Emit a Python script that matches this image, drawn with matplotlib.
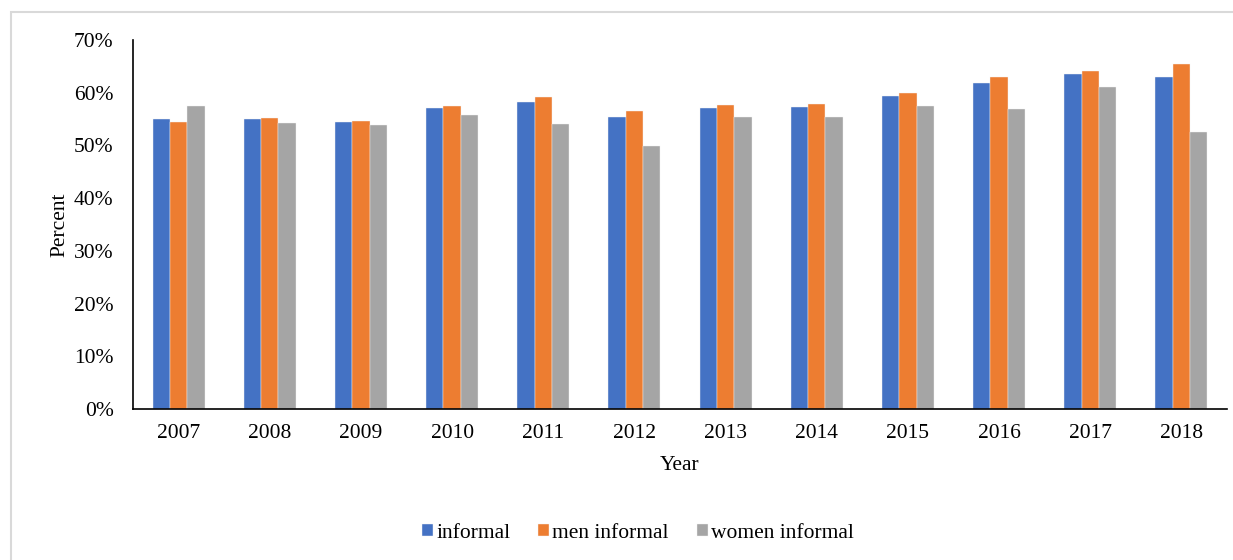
import numpy as np
import matplotlib
matplotlib.use("Agg")
import matplotlib.pyplot as plt
from matplotlib.patches import Rectangle

years = ["2007", "2008", "2009", "2010", "2011", "2012",
         "2013", "2014", "2015", "2016", "2017", "2018"]
informal = [55.0, 55.0, 54.4, 57.1, 58.2, 55.3, 57.1, 57.3, 59.4, 61.8, 63.6, 63.0]
men_informal = [54.4, 55.2, 54.6, 57.5, 59.1, 56.6, 57.6, 57.9, 60.0, 63.0, 64.2, 65.4]
women_informal = [57.5, 54.3, 53.9, 55.8, 54.1, 49.8, 55.3, 55.4, 57.5, 57.0, 61.1, 52.6]

plt.rcParams['font.family'] = ['Liberation Serif', 'DejaVu Serif']

W, H = 1233, 560
fig = plt.figure(figsize=(W / 100, H / 100), dpi=100)

# outer frame of the chart area (runs off the right/bottom edge)
fig.patches.append(Rectangle((10.5 / W, -0.05), 1.2, 1 - 11.5 / H + 0.05,
                             transform=fig.transFigure, fill=False,
                             edgecolor="#d9d9d9", linewidth=1.5))

ax = fig.add_axes([133 / W, 1 - 409 / H, (1227 - 133) / W, (409 - 40) / H])

x = np.arange(len(years))
w = 0.19
series = [(informal, "#4472C4", "informal"),
          (men_informal, "#ED7D31", "men informal"),
          (women_informal, "#A5A5A5", "women informal")]
for i, (vals, col, lab) in enumerate(series):
    ax.bar(x + (i - 1) * w, vals, w, color=col, label=lab,
           edgecolor="#f2f2f2", linewidth=0.3)

fs = 15.5
ax.set_xlim(-0.5, len(years) - 0.5)
ax.set_ylim(0, 70)
ax.set_yticks(np.arange(0, 71, 10))
ax.set_yticklabels([f"{v}%" for v in range(0, 71, 10)])
ax.set_xticks(x)
ax.set_xticklabels(years)
ax.tick_params(length=0, labelsize=fs)
ax.tick_params(axis="y", pad=14)
ax.tick_params(axis="x", pad=11)

for s in ["top", "right"]:
    ax.spines[s].set_visible(False)
ax.spines["left"].set_linewidth(1.2)
ax.spines["bottom"].set_linewidth(1.2)

ax.set_xlabel("Year", fontsize=fs, labelpad=9)
ax.set_ylabel("Percent", fontsize=fs, labelpad=3)

fig.legend(loc="center", bbox_to_anchor=(638 / W, 1 - 533 / H), ncol=3,
           frameon=False, fontsize=fs, handlelength=0.5, handleheight=0.5,
           handletextpad=0.15, columnspacing=1.3)

fig.savefig("out.png", dpi=100)
